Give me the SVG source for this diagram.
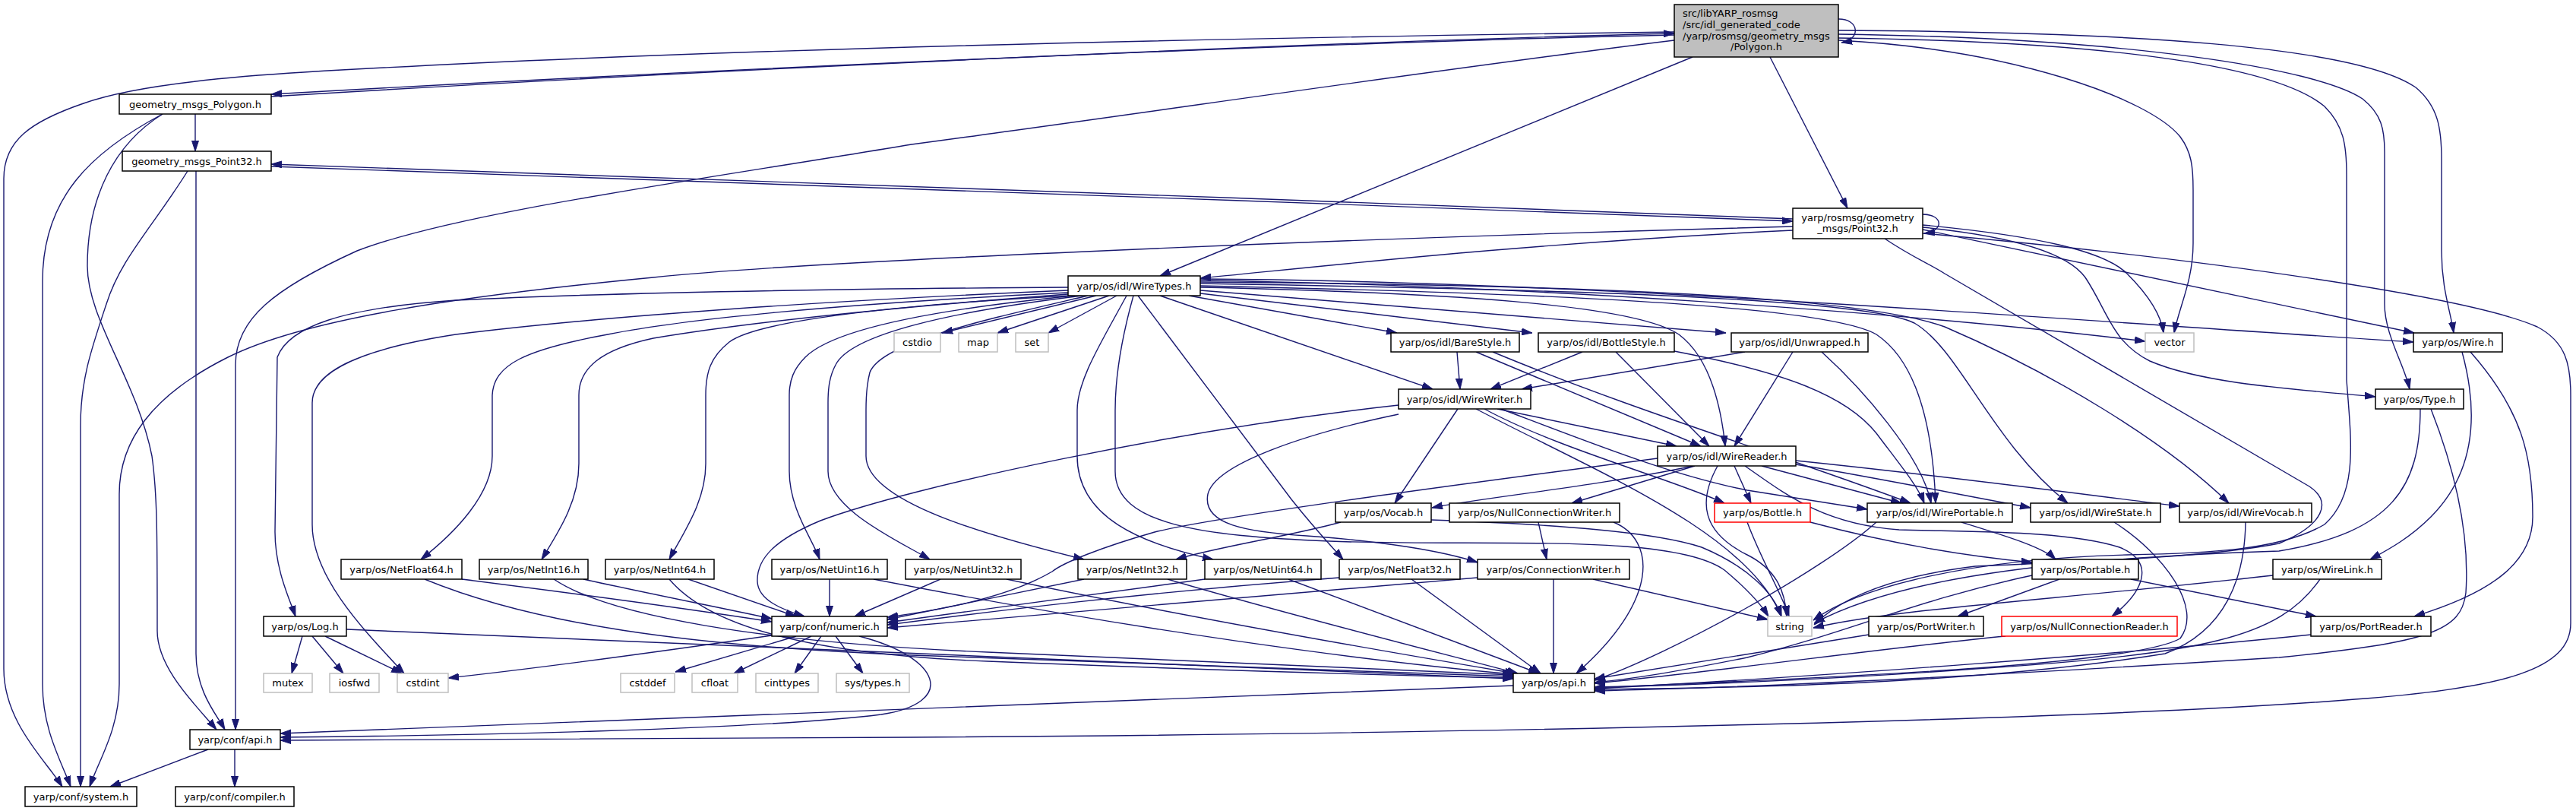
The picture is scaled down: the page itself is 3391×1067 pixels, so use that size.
<svg xmlns="http://www.w3.org/2000/svg" width="3391" height="1067" viewBox="0 0 3391 1067">
<style>
.n rect{fill:#fff;stroke:#000;stroke-width:1.5}
.g rect{fill:#fff;stroke:#bfbfbf;stroke-width:1.5}
.r rect{fill:#fff;stroke:#f00;stroke-width:1.5}
.root rect{fill:#bfbfbf;stroke:#000;stroke-width:1.5}
text{font-family:"DejaVu Sans","Liberation Sans",sans-serif;font-size:13px;fill:#000;text-anchor:middle}
text.l{text-anchor:start}
#edges path{fill:none;stroke:#191970;stroke-width:1.4;marker-end:url(#a)}
</style>
<defs>
<marker id="a" markerUnits="userSpaceOnUse" markerWidth="14" markerHeight="10" viewBox="0 0 14 10" refX="14" refY="5" orient="auto">
<path d="M0,0.5 L14,5 L0,9.5 z" fill="#191970" stroke="#191970" stroke-width="1"/>
</marker>
</defs>
<rect width="3391" height="1067" fill="#fff"/>
<g id="edges">
<path d="M2420,25 C2448,25 2450,52 2424,56"/>
<path d="M2204,46 C1700,57 900,93 357,124"/>
<path d="M2204,42 C1600,50 900,65 400,95 C250,104 160,118 110,136 C40,160 5,185 5,235 L5,880 C5,950 60,1000 82,1035"/>
<path d="M2204,53 C1900,90 1500,150 1200,190 C900,240 600,280 470,330 C360,380 310,420 310,480 L310,960"/>
<path d="M2228,75 L1527,363"/>
<path d="M2330,75 L2432,274"/>
<path d="M2420,53 C2650,65 2830,130 2870,180 C2885,200 2887,220 2887,250 L2887,320 C2887,370 2868,405 2862,438"/>
<path d="M2420,40 C2800,42 3100,60 3180,115 C3210,140 3214,170 3214,210 L3214,330 C3214,380 3226,410 3230,438"/>
<path d="M2420,45 C2800,50 3050,90 3110,130 C3135,150 3139,170 3139,200 L3139,400 C3139,440 3165,480 3172,512"/>
<path d="M2420,50 C2800,55 3000,90 3060,140 C3085,165 3089,190 3089,230 L3089,500 C3095,580 3105,650 3060,690 C3000,725 2900,728 2800,730 C2600,735 2450,770 2387,816"/>
<path d="M357,127 C900,94 1700,56 2204,44"/>
<path d="M257,150 L257,199"/>
<path d="M214,150 C120,200 56,260 56,370 L56,900 C56,960 80,1000 93,1035"/>
<path d="M214,150 C150,190 115,260 115,350 C115,420 180,500 200,600 C207,650 207,700 207,830 C207,880 260,930 285,960"/>
<path d="M357,219 C900,237 1700,266 2360,291"/>
<path d="M247,225 C200,300 159,340 140,400 C120,460 106,500 106,560 L106,1035"/>
<path d="M258,225 L258,860 C258,910 285,940 296,960"/>
<path d="M2360,288 C1700,263 900,233 357,216"/>
<path d="M2531,282 C2558,282 2560,304 2533,307"/>
<path d="M2360,298 C1900,310 1100,340 860,365 C600,390 400,420 300,470 C200,520 157,580 157,650 L157,900 C157,960 130,1000 118,1035"/>
<path d="M2360,303 C2000,320 1700,355 1580,366"/>
<path d="M2531,296 C2680,310 2770,330 2800,360 C2830,390 2845,415 2848,438"/>
<path d="M2531,302 L3178,438"/>
<path d="M2531,299 C2640,310 2720,330 2745,365 C2775,410 2780,450 2830,475 C2900,505 3020,512 3127,522"/>
<path d="M2481,314 C2520,340 2540,347 2560,360 L3040,640 C3070,660 3060,690 3000,715 C2900,735 2700,740 2600,745 C2480,760 2420,790 2388,822"/>
<path d="M2531,307 C2900,340 3250,390 3340,430 C3378,450 3384,480 3384,520 L3384,820 C3384,880 3300,905 3100,920 C2800,945 2000,965 1200,970 C800,972 500,974 369,974"/>
<path d="M1443,389 L1240,438"/>
<path d="M1460,389 L1313,438"/>
<path d="M1470,389 L1380,438"/>
<path d="M1406,378 C1100,380 800,385 600,395 C450,405 380,430 365,470 L362,700 C362,750 382,790 389,811"/>
<path d="M1406,382 C1100,395 800,415 600,440 C470,460 411,490 411,530 L411,690 C411,760 480,830 532,886"/>
<path d="M1406,385 C1100,400 900,420 800,440 C690,460 650,480 648,520 L648,600 C648,650 600,700 554,736"/>
<path d="M1406,387 C1100,410 950,430 860,445 C790,460 762,485 762,520 L762,610 C762,660 735,700 713,736"/>
<path d="M1408,389 C1200,400 1000,420 960,450 C935,470 929,490 929,520 L929,610 C929,660 900,700 881,736"/>
<path d="M1415,389 C1250,405 1100,430 1060,470 C1045,485 1039,500 1039,520 L1039,620 C1039,670 1070,710 1079,736"/>
<path d="M1425,389 C1250,410 1120,440 1100,480 C1092,495 1090,510 1090,530 L1090,620 C1090,670 1180,710 1224,736"/>
<path d="M1432,389 C1300,420 1160,450 1145,490 C1141,505 1140,520 1140,540 L1140,600 C1140,660 1300,705 1427,736"/>
<path d="M1483,389 C1450,450 1418,500 1418,540 L1418,600 C1418,680 1500,715 1597,736"/>
<path d="M1492,389 C1475,450 1468,500 1468,540 L1468,620 C1468,690 1580,705 1750,712 C1950,720 2200,700 2270,750 C2300,775 2318,795 2328,811"/>
<path d="M1498,389 L1700,657 C1730,695 1752,718 1768,736"/>
<path d="M1527,389 L1886,512"/>
<path d="M1565,389 L1839,438"/>
<path d="M1580,386 L2017,438"/>
<path d="M1580,382 L2272,438"/>
<path d="M1580,378 C1900,385 2150,400 2210,440 C2250,470 2265,530 2271,587"/>
<path d="M1580,376 C2000,385 2400,400 2470,440 C2530,480 2545,580 2548,662"/>
<path d="M1580,373 C2000,380 2450,390 2520,425 C2580,460 2620,580 2722,662"/>
<path d="M1580,371 C2100,375 2450,390 2560,430 C2700,490 2850,580 2934,662"/>
<path d="M1580,369 C2000,375 2500,410 2824,449"/>
<path d="M1580,367 C2100,370 2700,420 3177,450"/>
<path d="M1918,463 L1922,512"/>
<path d="M1943,463 L2239,587"/>
<path d="M1965,463 C2150,540 2350,600 2515,662"/>
<path d="M2083,463 L1962,512"/>
<path d="M2127,463 L2250,587"/>
<path d="M2204,462 C2350,490 2430,520 2470,570 C2500,610 2525,640 2533,662"/>
<path d="M2297,463 L2003,512"/>
<path d="M2360,463 L2283,587"/>
<path d="M2398,463 C2450,510 2530,600 2542,662"/>
<path d="M1971,538 L2207,587"/>
<path d="M1919,538 L1836,662"/>
<path d="M1954,538 C2050,590 2200,630 2270,662"/>
<path d="M1976,538 C2100,585 2200,625 2300,645 C2380,658 2420,664 2458,670"/>
<path d="M1841,533 C1550,565 1200,640 1080,685 C1020,710 996,735 997,765 C998,790 1030,802 1059,811"/>
<path d="M1841,545 C1720,570 1600,610 1590,650 C1582,690 1640,700 1720,705 C1820,712 1900,725 1945,740"/>
<path d="M1943,538 C2100,620 2300,700 2345,811"/>
<path d="M2229,613 C2100,640 1950,655 1885,668"/>
<path d="M2231,613 L2069,662"/>
<path d="M2283,613 L2305,662"/>
<path d="M2319,613 L2503,662"/>
<path d="M2364,611 C2450,625 2550,645 2673,668"/>
<path d="M2364,606 C2550,625 2700,645 2869,666"/>
<path d="M2182,603 C1900,640 1600,680 1520,700 C1450,720 1400,740 1385,752 C1320,790 1220,805 1168,812"/>
<path d="M2261,613 C2235,660 2240,700 2300,730 C2340,750 2350,780 2352,811"/>
<path d="M2297,613 C2350,650 2400,690 2500,697 C2600,700 2720,698 2790,720 C2840,740 2820,780 2780,811"/>
<path d="M1765,687 C1700,705 1600,720 1548,736"/>
<path d="M1884,684 C2050,690 2180,700 2240,720 C2300,745 2335,780 2345,811"/>
<path d="M2025,687 L2036,736"/>
<path d="M2124,687 C2180,710 2185,790 2075,886"/>
<path d="M2300,687 C2320,740 2345,780 2355,811"/>
<path d="M2383,687 C2450,705 2550,728 2675,740"/>
<path d="M2582,687 C2640,705 2690,720 2706,736"/>
<path d="M2470,687 C2400,750 2200,860 2099,895"/>
<path d="M2783,687 C2850,730 2900,800 2870,840 C2800,880 2300,895 2099,905"/>
<path d="M2956,687 C2955,760 2930,830 2850,860 C2600,900 2300,905 2099,907"/>
<path d="M2711,762 L2577,811"/>
<path d="M2805,762 L3049,811"/>
<path d="M2675,757 C2520,790 2440,830 2300,865 C2200,885 2150,893 2099,898"/>
<path d="M3054,762 C3000,840 2900,860 2600,880 C2400,895 2200,902 2099,904"/>
<path d="M2992,757 C2700,790 2500,800 2387,826"/>
<path d="M2460,835 C2300,860 2150,885 2099,893"/>
<path d="M3042,835 C2800,860 2400,890 2099,906"/>
<path d="M2640,837 C2500,850 2250,885 2099,899"/>
<path d="M3200,538 C3240,640 3250,720 3246,780 C3240,830 3200,845 3000,865 C2600,890 2300,905 2099,909"/>
<path d="M3186,538 C3186,640 3150,700 3000,725 C2700,735 2500,760 2388,820"/>
<path d="M3241,463 C3262,540 3260,620 3200,680 C3170,710 3140,725 3120,736"/>
<path d="M3252,463 C3320,540 3334,600 3334,680 C3334,740 3280,780 3178,811"/>
<path d="M398,837 L384,886"/>
<path d="M411,837 L452,886"/>
<path d="M428,837 L529,886"/>
<path d="M456,828 C900,848 1600,875 1992,893"/>
<path d="M1048,837 L889,884"/>
<path d="M1068,837 L966,886"/>
<path d="M1081,837 L1046,886"/>
<path d="M1100,837 L1136,886"/>
<path d="M1016,836 C850,860 700,880 590,892"/>
<path d="M1131,837 C1240,865 1260,925 1160,940 C1000,960 600,968 369,970"/>
<path d="M608,762 C750,780 900,800 1016,818"/>
<path d="M559,762 C700,820 900,850 1200,862 C1600,878 1900,887 1992,890"/>
<path d="M768,762 C850,780 950,800 1016,814"/>
<path d="M729,762 C800,810 1000,845 1300,858 C1650,875 1900,885 1992,888"/>
<path d="M906,762 L1048,811"/>
<path d="M881,762 C930,820 1050,860 1300,870 C1650,884 1900,890 1992,892"/>
<path d="M1092,762 L1092,811"/>
<path d="M1150,762 C1500,830 1800,870 1992,887"/>
<path d="M1238,762 L1125,811"/>
<path d="M1325,762 C1600,820 1900,870 1995,886"/>
<path d="M1427,762 L1168,815"/>
<path d="M1537,762 C1700,810 1900,860 1998,886"/>
<path d="M1586,762 L1168,819"/>
<path d="M1696,762 L2026,886"/>
<path d="M1763,760 C1500,780 1300,805 1168,822"/>
<path d="M1858,762 L2028,886"/>
<path d="M1945,760 C1600,790 1300,815 1168,826"/>
<path d="M2045,762 L2045,886"/>
<path d="M2097,762 L2327,815"/>
<path d="M1992,902 C1500,920 900,945 369,965"/>
<path d="M274,986 L145,1035"/>
<path d="M309,986 L309,1035"/>
</g>
<g id="n_root" class="root"><rect x="2204" y="6" width="216" height="69"/><text class="l" x="2215" y="22">src/libYARP_rosmsg</text><text class="l" x="2215" y="37">/src/idl_generated_code</text><text class="l" x="2215" y="51.5">/yarp/rosmsg/geometry_msgs</text><text x="2312" y="66">/Polygon.h</text></g>
<g id="n_gp" class="n"><rect x="157" y="124" width="200" height="26"/><text x="257" y="141.5">geometry_msgs_Polygon.h</text></g>
<g id="n_gpt" class="n"><rect x="161" y="199" width="196" height="26"/><text x="259" y="216.5">geometry_msgs_Point32.h</text></g>
<g id="n_rp" class="n"><rect x="2360" y="274" width="171" height="40"/><text x="2445.5" y="291">yarp/rosmsg/geometry</text><text x="2445.5" y="305">_msgs/Point32.h</text></g>
<g id="n_wt" class="n"><rect x="1406" y="363" width="174" height="26"/><text x="1493" y="380.5">yarp/os/idl/WireTypes.h</text></g>
<g id="n_cstdio" class="g"><rect x="1177" y="438" width="61" height="25"/><text x="1207.5" y="455">cstdio</text></g>
<g id="n_map" class="g"><rect x="1262" y="438" width="51" height="25"/><text x="1287.5" y="455">map</text></g>
<g id="n_set" class="g"><rect x="1337" y="438" width="43" height="25"/><text x="1358.5" y="455">set</text></g>
<g id="n_bare" class="n"><rect x="1831" y="438" width="169" height="25"/><text x="1915.5" y="455">yarp/os/idl/BareStyle.h</text></g>
<g id="n_bottlestyle" class="n"><rect x="2025" y="438" width="179" height="25"/><text x="2114.5" y="455">yarp/os/idl/BottleStyle.h</text></g>
<g id="n_unwrapped" class="n"><rect x="2279" y="438" width="180" height="25"/><text x="2369" y="455">yarp/os/idl/Unwrapped.h</text></g>
<g id="n_vector" class="g"><rect x="2824" y="438" width="64" height="25"/><text x="2856" y="455">vector</text></g>
<g id="n_wire" class="n"><rect x="3177" y="438" width="117" height="25"/><text x="3235.5" y="455">yarp/os/Wire.h</text></g>
<g id="n_ww" class="n"><rect x="1841" y="512" width="174" height="26"/><text x="1928" y="529.5">yarp/os/idl/WireWriter.h</text></g>
<g id="n_type" class="n"><rect x="3127" y="512" width="116" height="26"/><text x="3185" y="529.5">yarp/os/Type.h</text></g>
<g id="n_wr" class="n"><rect x="2182" y="587" width="182" height="26"/><text x="2273" y="604.5">yarp/os/idl/WireReader.h</text></g>
<g id="n_vocab" class="n"><rect x="1758" y="662" width="126" height="25"/><text x="1821" y="679">yarp/os/Vocab.h</text></g>
<g id="n_nullcw" class="n"><rect x="1908" y="662" width="224" height="25"/><text x="2020" y="679">yarp/os/NullConnectionWriter.h</text></g>
<g id="n_bottle" class="r"><rect x="2257" y="662" width="126" height="25"/><text x="2320" y="679">yarp/os/Bottle.h</text></g>
<g id="n_wp" class="n"><rect x="2458" y="662" width="191" height="25"/><text x="2553.5" y="679">yarp/os/idl/WirePortable.h</text></g>
<g id="n_wstate" class="n"><rect x="2673" y="662" width="171" height="25"/><text x="2758.5" y="679">yarp/os/idl/WireState.h</text></g>
<g id="n_wvocab" class="n"><rect x="2869" y="662" width="174" height="25"/><text x="2956" y="679">yarp/os/idl/WireVocab.h</text></g>
<g id="n_nf64" class="n"><rect x="449" y="736" width="159" height="26"/><text x="528.5" y="753.5">yarp/os/NetFloat64.h</text></g>
<g id="n_ni16" class="n"><rect x="631" y="736" width="143" height="26"/><text x="702.5" y="753.5">yarp/os/NetInt16.h</text></g>
<g id="n_ni64" class="n"><rect x="797" y="736" width="143" height="26"/><text x="868.5" y="753.5">yarp/os/NetInt64.h</text></g>
<g id="n_nu16" class="n"><rect x="1016" y="736" width="152" height="26"/><text x="1092" y="753.5">yarp/os/NetUint16.h</text></g>
<g id="n_nu32" class="n"><rect x="1192" y="736" width="152" height="26"/><text x="1268" y="753.5">yarp/os/NetUint32.h</text></g>
<g id="n_ni32" class="n"><rect x="1419" y="736" width="143" height="26"/><text x="1490.5" y="753.5">yarp/os/NetInt32.h</text></g>
<g id="n_nu64" class="n"><rect x="1586" y="736" width="153" height="26"/><text x="1662.5" y="753.5">yarp/os/NetUint64.h</text></g>
<g id="n_nf32" class="n"><rect x="1763" y="736" width="159" height="26"/><text x="1842.5" y="753.5">yarp/os/NetFloat32.h</text></g>
<g id="n_cw" class="n"><rect x="1945" y="736" width="200" height="26"/><text x="2045" y="753.5">yarp/os/ConnectionWriter.h</text></g>
<g id="n_portable" class="n"><rect x="2675" y="736" width="140" height="26"/><text x="2745" y="753.5">yarp/os/Portable.h</text></g>
<g id="n_wirelink" class="n"><rect x="2992" y="736" width="143" height="26"/><text x="3063.5" y="753.5">yarp/os/WireLink.h</text></g>
<g id="n_log" class="n"><rect x="347" y="811" width="109" height="26"/><text x="401.5" y="828.5">yarp/os/Log.h</text></g>
<g id="n_numeric" class="n"><rect x="1016" y="811" width="152" height="26"/><text x="1092" y="828.5">yarp/conf/numeric.h</text></g>
<g id="n_string" class="g"><rect x="2327" y="811" width="58" height="26"/><text x="2356" y="828.5">string</text></g>
<g id="n_pw" class="n"><rect x="2460" y="811" width="151" height="26"/><text x="2535.5" y="828.5">yarp/os/PortWriter.h</text></g>
<g id="n_nullcr" class="r"><rect x="2635" y="811" width="231" height="26"/><text x="2750.5" y="828.5">yarp/os/NullConnectionReader.h</text></g>
<g id="n_pr" class="n"><rect x="3042" y="811" width="158" height="26"/><text x="3121" y="828.5">yarp/os/PortReader.h</text></g>
<g id="n_mutex" class="g"><rect x="347" y="886" width="64" height="25"/><text x="379" y="903">mutex</text></g>
<g id="n_iosfwd" class="g"><rect x="434" y="886" width="65" height="25"/><text x="466.5" y="903">iosfwd</text></g>
<g id="n_cstdint" class="g"><rect x="523" y="886" width="67" height="25"/><text x="556.5" y="903">cstdint</text></g>
<g id="n_cstddef" class="g"><rect x="817" y="886" width="71" height="25"/><text x="852.5" y="903">cstddef</text></g>
<g id="n_cfloat" class="g"><rect x="911" y="886" width="60" height="25"/><text x="941" y="903">cfloat</text></g>
<g id="n_cinttypes" class="g"><rect x="995" y="886" width="82" height="25"/><text x="1036" y="903">cinttypes</text></g>
<g id="n_systypes" class="g"><rect x="1101" y="886" width="96" height="25"/><text x="1149" y="903">sys/types.h</text></g>
<g id="n_osapi" class="n"><rect x="1992" y="886" width="107" height="25"/><text x="2045.5" y="903">yarp/os/api.h</text></g>
<g id="n_capi" class="n"><rect x="250" y="960" width="119" height="26"/><text x="309.5" y="977.5">yarp/conf/api.h</text></g>
<g id="n_sys" class="n"><rect x="33" y="1035" width="147" height="26"/><text x="106.5" y="1052.5">yarp/conf/system.h</text></g>
<g id="n_compiler" class="n"><rect x="231" y="1035" width="156" height="26"/><text x="309" y="1052.5">yarp/conf/compiler.h</text></g>
</svg>
